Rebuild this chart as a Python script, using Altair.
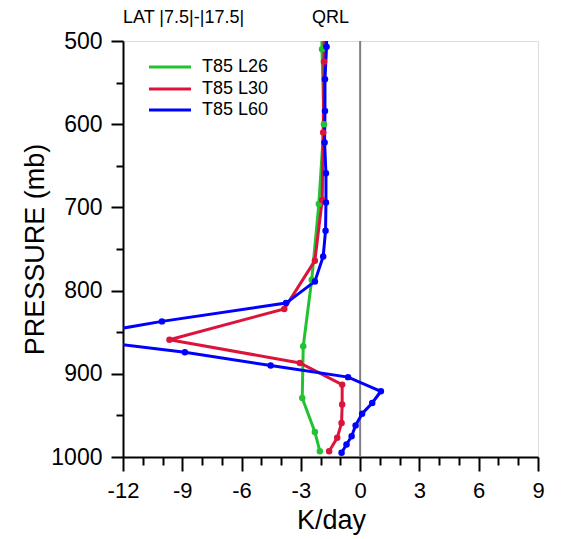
import altair as alt
import pandas as pd

FONT = "Liberation Sans"

models = ["T85 L26", "T85 L30", "T85 L60"]
colors = ["#22c232", "#dc143c", "#0000ff"]

# T85 L26
p_l26 = [433, 510, 600, 696, 787, 867, 929, 970, 993]
k_l26 = [-1.95, -1.93, -1.83, -2.09, -2.45, -2.88, -2.93, -2.29, -2.04]

# T85 L30
p_l30 = [440, 525, 610, 691, 764, 822, 859, 887, 913, 937, 959, 977, 993]
k_l30 = [-1.80, -1.83, -1.87, -1.92, -2.29, -3.84, -9.65, -3.05, -0.91, -0.91, -0.94, -1.16, -1.57]

# T85 L60
p_l60 = [470, 507, 546, 584, 622, 659, 694, 728, 759, 789, 815, 837, 857, 874,
         890, 904, 921, 935, 948, 962, 975, 985, 995]
k_l60 = [-1.70, -1.70, -1.78, -1.78, -1.80, -1.73, -1.73, -1.75, -1.87, -2.29, -3.75,
         -10.03, -14.9, -8.87, -4.53, -0.61, 1.05, 0.61, 0.10, -0.23, -0.43, -0.69, -0.94]

x_major_ticks = [-12, -9, -6, -3, 0, 3, 6, 9]
x_minor_ticks = [-11, -10, -8, -7, -5, -4, -2, -1, 1, 2, 4, 5, 7, 8]
y_major_ticks = [500, 600, 700, 800, 900, 1000]
y_minor_ticks = [550, 650, 750, 850, 950]

rows = []
for m, ps, ks in zip(models, [p_l26, p_l30, p_l60], [k_l26, k_l30, k_l60]):
    for p, k in zip(ps, ks):
        rows.append({"model": m, "p": p, "k": k})
df = pd.DataFrame(rows)

W, H = 415, 416

xscale = alt.Scale(domain=[-12, 9], nice=False, zero=False)
yscale = alt.Scale(domain=[500, 1000], reverse=True, nice=False, zero=False)
cscale = alt.Scale(domain=models, range=colors)

common = dict(domainColor="black", domainWidth=2, tickColor="black", tickWidth=2,
              grid=False, labelFont=FONT, labelColor="black", labelOverlap=False,
              labelFlush=False, titleFont=FONT, titleColor="black",
              titleFontWeight="normal", labelExpr="toString(datum.value)")

x_major = alt.Axis(values=x_major_ticks, tickSize=14, labelFontSize=22, labelPadding=9,
                   title="K/day", titleFontSize=27, titleX=208, titleY=71,
                   titleBaseline="alphabetic", titleAlign="center", orient="bottom",
                   **common)
y_major = alt.Axis(values=y_major_ticks, tickSize=12, labelFontSize=23, labelPadding=9,
                   title="PRESSURE (mb)", titleFontSize=27, titleX=-80, titleY=208,
                   titleAngle=-90, titleBaseline="alphabetic", titleAlign="center",
                   orient="left", **common)
x_minor = alt.Axis(values=x_minor_ticks, tickSize=8, labels=False, domain=False,
                   title="", orient="bottom", grid=False, tickColor="black", tickWidth=2)
y_minor = alt.Axis(values=y_minor_ticks, tickSize=7, labels=False, domain=False,
                   title="", orient="left", grid=False, tickColor="black", tickWidth=2)

base = alt.Chart(df)

minor = base.mark_point(opacity=0).encode(
    x=alt.X("k:Q", scale=xscale, axis=x_minor),
    y=alt.Y("p:Q", scale=yscale, axis=y_minor),
)

zero = alt.Chart(pd.DataFrame({"k": [0]})).mark_rule(color="#7f7f7f", strokeWidth=2).encode(
    x=alt.X("k:Q", scale=xscale, axis=None)
)

lines = base.mark_line(strokeWidth=3, clip=True).encode(
    x=alt.X("k:Q", scale=xscale, axis=x_major),
    y=alt.Y("p:Q", scale=yscale, axis=y_major),
    color=alt.Color("model:N", scale=cscale, legend=None),
    order="p:Q",
)

points = base.mark_circle(size=42, opacity=1, clip=True).encode(
    x=alt.X("k:Q", scale=xscale, axis=None),
    y=alt.Y("p:Q", scale=yscale, axis=None),
    color=alt.Color("model:N", scale=cscale, legend=None),
)

one = pd.DataFrame({"a": [0]})
layers = [minor, zero, lines, points]

legend_y = [26, 48, 69]
for m, c, ly in zip(models, colors, legend_y):
    layers.append(alt.Chart(one).mark_rule(color=c, strokeWidth=3).encode(
        x=alt.value(26), x2=alt.value(68), y=alt.value(ly)))
    layers.append(alt.Chart(one).mark_text(align="left", baseline="middle", fontSize=18,
                                           font=FONT, color="black").encode(
        x=alt.value(79), y=alt.value(ly), text=alt.value(m)))

layers.append(alt.Chart(one).mark_text(align="left", baseline="alphabetic", fontSize=18,
                                       font=FONT, color="black").encode(
    x=alt.value(0), y=alt.value(-18), text=alt.value("LAT |7.5|-|17.5|")))
layers.append(alt.Chart(one).mark_text(align="center", baseline="alphabetic", fontSize=18,
                                       font=FONT, color="black").encode(
    x=alt.value(W / 2), y=alt.value(-18), text=alt.value("QRL")))

chart = alt.layer(*layers).resolve_axis(x="independent", y="independent").properties(
    width=W, height=H,
    autosize=alt.AutoSizeParams(type="none"),
    padding={"left": 123, "top": 41, "right": 32, "bottom": 82},
).configure_view(stroke="black", strokeWidth=2).configure(background="white")

chart.save("out.html", embed_options={"renderer": "svg", "actions": False})
